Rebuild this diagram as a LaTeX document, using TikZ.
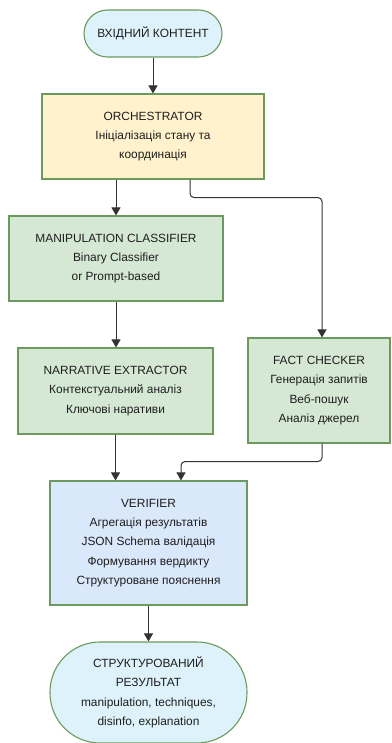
\documentclass[tikz,border=0pt]{standalone}
\usepackage{fontspec}
\setmainfont{Liberation Sans}
\usetikzlibrary{arrows.meta}
\definecolor{edge}{HTML}{6C9A5E}
\definecolor{termfill}{HTML}{DDF2FB}
\definecolor{orchfill}{HTML}{FFF2CC}
\definecolor{agentfill}{HTML}{D5E8D4}
\definecolor{verfill}{HTML}{DAE8FC}
\definecolor{wire}{HTML}{333333}
\definecolor{ink}{HTML}{1E1E1E}

\begin{document}
\begin{tikzpicture}[x=1pt, y=-1pt,
    box/.style={draw=edge, line width=1.1pt, align=center, text=ink,
      inner sep=0pt, font=\fontsize{11.9}{19.3}\selectfont},
    term/.style={box, fill=termfill},
    flow/.style={draw=wire, line width=1pt, -{Triangle[width=9pt,length=8pt]}}]
      \useasboundingbox (0,0) rectangle (391,743);
      % terminals and steps
      \node[term, minimum width=138pt, minimum height=47pt, rounded corners=23.5pt]
        (input) at (153, 33.5) {ВХІДНИЙ КОНТЕНТ};
      \node[box, fill=orchfill, minimum width=222pt, minimum height=85pt]
        (orch) at (153, 136.5) {ORCHESTRATOR\\Ініціалізація стану та\\координація};
      \node[box, fill=agentfill, minimum width=214pt, minimum height=85pt]
        (manip) at (116, 258.5) {MANIPULATION CLASSIFIER\\Binary Classifier\\or Prompt-based};
      \node[box, fill=agentfill, minimum width=195pt, minimum height=86pt]
        (narr) at (115.5, 391) {NARRATIVE EXTRACTOR\\Контекстуальний аналіз\\Ключові наративи};
      \node[box, fill=agentfill, minimum width=142pt, minimum height=105pt]
        (fact) at (319, 390.5) {FACT CHECKER\\Генерація запитів\\Веб-пошук\\Аналіз джерел};
      \node[box, fill=verfill, minimum width=197pt, minimum height=124pt]
        (verif) at (148.5, 543) {VERIFIER\\Агрегація результатів\\JSON Schema валідація\\Формування вердикту\\Структуроване пояснення};
      \node[term, minimum width=197pt, minimum height=101pt, rounded corners=50pt]
        (result) at (148.5, 692.5) {СТРУКТУРОВАНИЙ\\РЕЗУЛЬТАТ\\manipulation, techniques,\\disinfo, explanation};
      % connectors
      \draw[flow] (input) -- (orch);
      \draw[flow] (orch.south -| manip.north) -- (manip);
      \draw[flow, rounded corners=4pt] ([xshift=37pt]orch.south) -- ++(0,18)
        -| ([xshift=3pt]fact.north);
      \draw[flow] (manip.south) -- (manip.south |- narr.north);
      \draw[flow] (narr.south) -- (narr.south |- verif.north);
      \draw[flow, rounded corners=4pt] ([xshift=3pt]fact.south) -- ++(0,18)
        -| ([xshift=32.5pt]verif.north);
      \draw[flow] (verif) -- (result);
    \end{tikzpicture}
\end{document}
